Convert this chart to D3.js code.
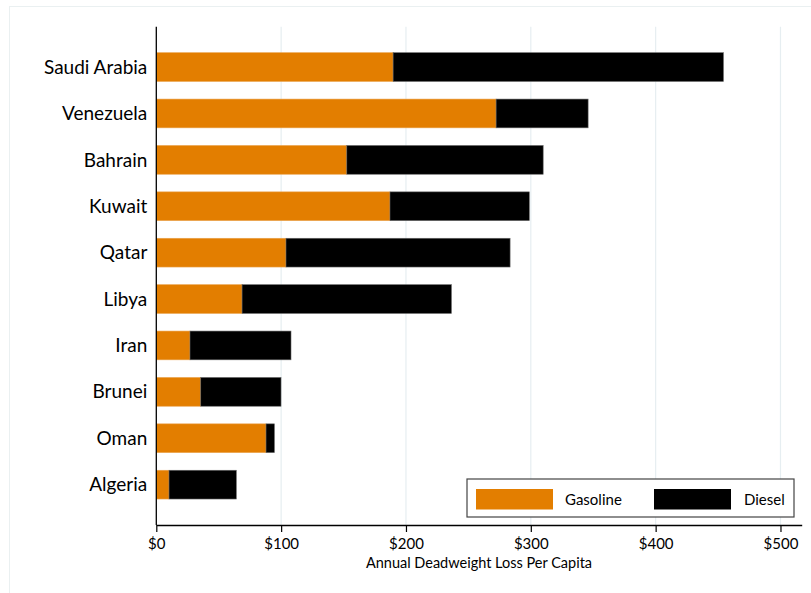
<!DOCTYPE html>
<html>
<head>
<meta charset="utf-8">
<script src="https://cdn.jsdelivr.net/npm/d3@7"></script>
<style>
  body { margin: 0; background: #fff; }
  svg { display: block; font-family: Lato, "Open Sans", sans-serif; }
</style>
</head>
<body>
<div id="chart"></div>
<script>
// values ($ per capita)
const countries = ["Saudi Arabia", "Venezuela", "Bahrain", "Kuwait", "Qatar", "Libya", "Iran", "Brunei", "Oman", "Algeria"];
const gasoline = [189.7, 272.2, 152.6, 187.2, 103.9, 68.7, 27.0, 35.6, 87.9, 10.2];
const diesel = [264.6, 73.7, 157.3, 111.6, 179.5, 167.7, 80.9, 64.3, 6.7, 53.9];
const xTicks = [0, 100, 200, 300, 400, 500];
const seriesNames = ["Gasoline", "Diesel"];
const colors = ["#e37e00", "#000000"];

const width = 811, height = 593;
const marginLeft = 156.3, marginRight = 9.3, marginTop = 26.7, marginBottom = 68;

const data = countries.map((c, i) => ({country: c, Gasoline: gasoline[i], Diesel: diesel[i]}));
const stack = d3.stack().keys(seriesNames)(data);

const x = d3.scaleLinear([0, 517], [marginLeft, width - marginRight]);
const y = d3.scaleBand(countries, [marginTop, height - marginBottom])
    .paddingInner(0.38)
    .paddingOuter(0.56);

const svg = d3.select("#chart").append("svg")
    .attr("width", width)
    .attr("height", height)
    .attr("viewBox", [0, 0, width, height]);

// outer frame (light)
svg.append("rect")
    .attr("x", 9.5).attr("y", 6.5)
    .attr("width", width + 10).attr("height", height + 10)
    .attr("fill", "none")
    .attr("stroke", "#eaf0f1")
    .attr("stroke-width", 1);

// gridlines
svg.append("g")
  .selectAll("line")
  .data(xTicks.slice(1))
  .join("line")
    .attr("x1", d => x(d)).attr("x2", d => x(d))
    .attr("y1", marginTop).attr("y2", height - marginBottom)
    .attr("stroke", "#e6eef1")
    .attr("stroke-width", 1.2);

// bars
svg.append("g")
  .selectAll("g")
  .data(stack)
  .join("g")
    .attr("fill", (d, i) => colors[i])
    .attr("stroke", (d, i) => i === 0 ? "#eaa24c" : "#666")
    .attr("stroke-width", 0.6)
  .selectAll("rect")
  .data(d => d)
  .join("rect")
    .attr("x", d => x(d[0]))
    .attr("y", d => y(d.data.country))
    .attr("width", d => x(d[1]) - x(d[0]))
    .attr("height", y.bandwidth());

// x axis
svg.append("g")
    .attr("transform", `translate(0,${height - marginBottom})`)
    .call(d3.axisBottom(x).tickValues(xTicks).tickFormat(d => "$" + d).tickSize(7).tickSizeOuter(0))
    .call(g => g.select(".domain").attr("stroke", "#000").attr("stroke-width", 1.3))
    .call(g => g.selectAll(".tick line").attr("stroke", "#000").attr("stroke-width", 1.2))
    .call(g => g.selectAll(".tick text")
        .attr("font-size", 15)
        .attr("font-family", "Lato, sans-serif")
        .attr("fill", "#000")
        .attr("dy", "0.9em"));

svg.append("text")
    .attr("x", (marginLeft + width - marginRight) / 2)
    .attr("y", 568)
    .attr("text-anchor", "middle")
    .attr("font-size", 14.5)
    .attr("fill", "#000")
    .text("Annual Deadweight Loss Per Capita");

// y axis
svg.append("line")
    .attr("x1", marginLeft).attr("x2", marginLeft)
    .attr("y1", marginTop).attr("y2", height - marginBottom)
    .attr("stroke", "#000")
    .attr("stroke-width", 1.3);

svg.append("g")
  .selectAll("text")
  .data(countries)
  .join("text")
    .attr("x", marginLeft - 9)
    .attr("y", d => y(d) + y.bandwidth() / 2)
    .attr("dy", "0.35em")
    .attr("text-anchor", "end")
    .attr("font-size", 19)
    .attr("fill", "#000")
    .text(d => d);

// legend
const legend = svg.append("g").attr("transform", "translate(467,479)");
legend.append("rect")
    .attr("width", 327).attr("height", 38)
    .attr("fill", "#fff")
    .attr("stroke", "#444")
    .attr("stroke-width", 1.2);
const items = legend.selectAll("g")
  .data(seriesNames)
  .join("g")
    .attr("transform", (d, i) => `translate(${i === 0 ? 9 : 187},10)`);
items.append("rect")
    .attr("width", 77).attr("height", 20.5)
    .attr("fill", (d, i) => colors[i]);
items.append("text")
    .attr("x", (d, i) => i === 0 ? 89 : 90)
    .attr("y", 10.5)
    .attr("dy", "0.35em")
    .attr("font-size", 15)
    .attr("fill", "#000")
    .text(d => d);
</script>
</body>
</html>
